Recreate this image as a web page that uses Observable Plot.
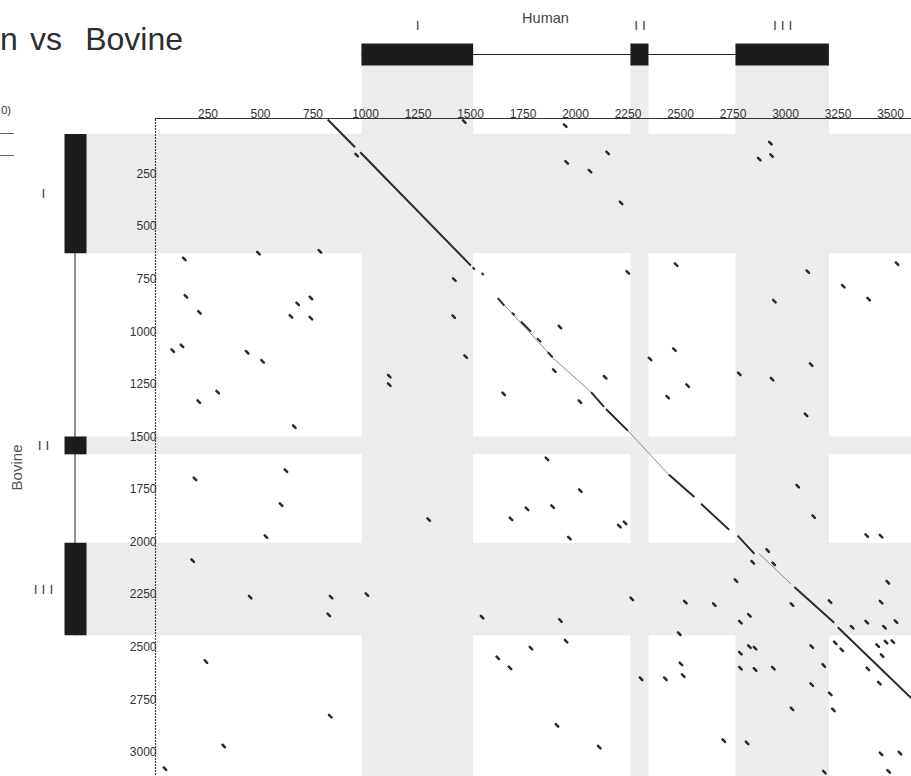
<!DOCTYPE html>
<html><head><meta charset="utf-8">
<script src="https://cdn.jsdelivr.net/npm/d3@7"></script>
<script src="https://cdn.jsdelivr.net/npm/@observablehq/plot@0.6"></script>
<style>html,body{margin:0;padding:0;background:#fff;overflow:hidden}#chart svg{display:block}</style>
</head><body><div id="chart"></div>
<script>
// Exon annotation (sequence positions)
const exonLabels = ["I", "II", "III"];
const humanExonStart = [983, 2264, 2764];
const humanExonEnd = [1515, 2350, 3209];
const bovineExonStart = [71, 1510, 2016];
const bovineExonEnd = [638, 1595, 2456];

// Tick labels
const xTicks = [250, 500, 750, 1000, 1250, 1500, 1750, 2000, 2250, 2500, 2750, 3000, 3250, 3500];
const yTicks = [250, 500, 750, 1000, 1250, 1500, 1750, 2000, 2250, 2500, 2750, 3000];

// Scattered short matches (human position, bovine position)
const hitHuman = [1470,958,137,490,783,1423,145,209,677,740,645,740,1420,82,126,436,510,1477,1113,1113,1658,296,206,661,
1951,2928,2934,2875,2153,1958,2069,2217,2249,2479,3106,3531,3275,3396,2947,1926,2471,2355,3122,2780,2936,1899,2141,2534,2439,2021,3098,
188,621,598,526,1301,1693,1769,177,451,836,825,1007,1555,240,1630,1688,1788,832,325,45,
1864,2023,1891,2209,2236,1971,3058,3134,3387,3455,2915,2844,2944,2764,3487,2268,2523,2661,3031,3212,3455,1928,2785,2828,3317,3387,3471,3526,2494,1955,2828,2855,2785,3125,3237,3268,3439,3479,3511,3460,2502,2513,2785,2855,2942,3182,3392,2312,2428,3125,3447,3213,3031,3228,1912,2113,2706,2817,3455,3545,3185,3491];
const hitBovine = [10,169,663,636,627,762,841,917,877,849,936,945,938,1099,1077,1107,1150,1128,1221,1261,1305,1297,1342,1461,
29,112,172,188,159,204,246,397,727,690,724,686,793,854,864,987,1095,1139,1166,1210,1235,1194,1226,1266,1321,1342,1405,
1709,1670,1832,1984,1903,1900,1852,2098,2272,2272,2356,2260,2367,2578,2561,2608,2514,2838,2980,3088,
1614,1765,1841,1934,1919,1991,1744,1889,1979,1982,2050,2106,2114,2193,2201,2280,2296,2307,2307,2293,2296,2383,2391,2359,2415,2391,2415,2388,2446,2481,2507,2514,2538,2507,2489,2523,2502,2486,2483,2550,2589,2645,2610,2616,2610,2597,2613,2660,2660,2688,2681,2732,2803,2808,2882,2985,2954,2965,3017,3014,3104,3101];

// Main diagonal alignment runs: start/end positions, tone d = strong, t = weak
const diagHuman1  = [820, 975, 1510, 1553, 1630, 1630, 1698, 1740, 1817, 1868, 1898, 2074, 2145, 2250, 2444, 2598, 2772, 2875, 3042, 3249];
const diagBovine1 = [0,   156, 703,  730,  850,  850,  919,  961,  1040, 1107, 1139, 1297, 1377, 1481, 1689, 1828, 1979, 2066, 2224, 2415];
const diagHuman2  = [950, 1502, 1521, 1563, 1898, 1661, 1710, 1788, 1836, 1891, 2074, 2136, 2250, 2441, 2566, 2732, 2852, 3026, 3232, 3640];
const diagBovine2 = [132, 695, 714,  740,  1139, 885,  931,  1009, 1059, 1131, 1297, 1367, 1481, 1686, 1796, 1952, 2066, 2209, 2394, 2792];
const diagTone    = ["d","d","d","d","t","d","d","d","d","d","t","d","d","t","d","d","d","t","d","d"];

const humanExons = exonLabels.map((label, i) => ({label, start: humanExonStart[i], end: humanExonEnd[i]}));
const bovineExons = exonLabels.map((label, i) => ({label, start: bovineExonStart[i], end: bovineExonEnd[i]}));
const hits = hitHuman.map((h, i) => ({h, b: hitBovine[i]}));
const diag = diagHuman1.map((h1, i) => ({h1, b1: diagBovine1[i], h2: diagHuman2[i], b2: diagBovine2[i], tone: diagTone[i]}));
const strong = diag.filter(d => d.tone === "d");
const weak = diag.filter(d => d.tone === "t");

const font = "Liberation Sans, Arial, sans-serif";
const half = 6;

const plot = Plot.plot({
  width: 911,
  height: 776,
  marginLeft: 155,
  marginTop: 119,
  marginRight: 0,
  marginBottom: 0,
  x: {domain: [0, 3600], axis: null},
  y: {domain: [0, 3125], reverse: true, axis: null},
  style: {fontFamily: font, fontSize: "12px", color: "#333", background: "#fff"},
  marks: [
    // exon bands
    Plot.rect(humanExons, {x1: "start", x2: "end", fill: "#ececec", insetTop: -54}),
    Plot.rect(bovineExons, {y1: "start", y2: "end", fill: "#ececec", insetLeft: -69}),
    // frame lines
    Plot.ruleY([0], {stroke: "#333", strokeWidth: 1.2, dy: -1}),
    Plot.ruleX([0], {stroke: "#444", strokeWidth: 1.2, strokeDasharray: "2,1"}),
    // axes
    Plot.axisX(xTicks, {anchor: "top", tickSize: 0, tickPadding: 2, label: null, tickFormat: d => String(d), fontSize: 12, fill: "#333"}),
    Plot.axisY(yTicks, {anchor: "left", tickSize: 0, tickPadding: -1, label: null, tickFormat: d => String(d), fontSize: 12, fill: "#333", dy: 2}),
    // diagonal
    Plot.link(weak, {x1: "h1", y1: "b1", x2: "h2", y2: "b2", stroke: "#8a8a8a", strokeWidth: 1}),
    Plot.link(strong, {x1: "h1", y1: "b1", x2: "h2", y2: "b2", stroke: "#2a2a2a", strokeWidth: 2}),
    // short matches
    Plot.link(hits, {x1: d => d.h - half, y1: d => d.b - half, x2: d => d.h + half, y2: d => d.b + half,
      stroke: "#2a2a2a", strokeWidth: 2.5, strokeLinecap: "round"}),
    // human gene track
    Plot.ruleY([0], {x1: humanExonStart[0], x2: humanExonEnd[2], stroke: "#222", strokeWidth: 1, dy: -65}),
    Plot.ruleY(humanExons, {y: 0, x1: "start", x2: "end", stroke: "#1c1c1c", strokeWidth: 22, dy: -65}),
    Plot.text(humanExons, {x: d => (d.start + d.end) / 2, y: 0, text: "label", dx: 2, dy: -94, fontSize: 13, fill: "#444", fontFamily: "DejaVu Sans, sans-serif"}),
    Plot.text(["Human"], {x: 1857, y: 0, text: d => d, dy: -101, fontSize: 14.5, fill: "#444"}),
    // bovine gene track
    Plot.ruleX([0], {y1: bovineExonStart[0], y2: bovineExonEnd[2], stroke: "#222", strokeWidth: 1, dx: -80.5}),
    Plot.ruleX(bovineExons, {x: 0, y1: "start", y2: "end", stroke: "#1c1c1c", strokeWidth: 22, dx: -80}),
    Plot.text(bovineExons, {x: 0, y: d => (d.start + d.end) / 2, text: "label", dx: -110, fontSize: 13, fill: "#444", fontFamily: "DejaVu Sans, sans-serif"}),
    Plot.text(["Bovine"], {x: 0, y: 1655, text: d => d, dx: -138, rotate: -90, fontSize: 15, fill: "#555"})
  ]
});
document.getElementById("chart").appendChild(plot);

const svg = d3.select(plot);
// spaced roman numerals like the reference
svg.selectAll("text").filter(function () { return /^I+$/.test(this.textContent); }).attr("letter-spacing", 4);

// title fragment and cut legend fragment in the corner (as visible in the reference)
const title = [["n", 0, "start"], ["vs", 30, "start"], ["Bovine", 183, "end"]];
title.forEach(([t, x, a]) => svg.append("text").attr("x", x).attr("y", 50).attr("text-anchor", a)
  .attr("font-family", font).attr("font-size", 32).attr("fill", "#2e2e2e").text(t));
svg.append("text").attr("x", 11).attr("y", 114).attr("text-anchor", "end")
  .attr("font-family", font).attr("font-size", 11).attr("fill", "#333").text("0)");
svg.append("line").attr("x1", 0).attr("x2", 14).attr("y1", 133.5).attr("y2", 133.5).attr("stroke", "#666");
svg.append("line").attr("x1", 0).attr("x2", 14).attr("y1", 155.5).attr("y2", 155.5).attr("stroke", "#666");
</script>
</body></html>
